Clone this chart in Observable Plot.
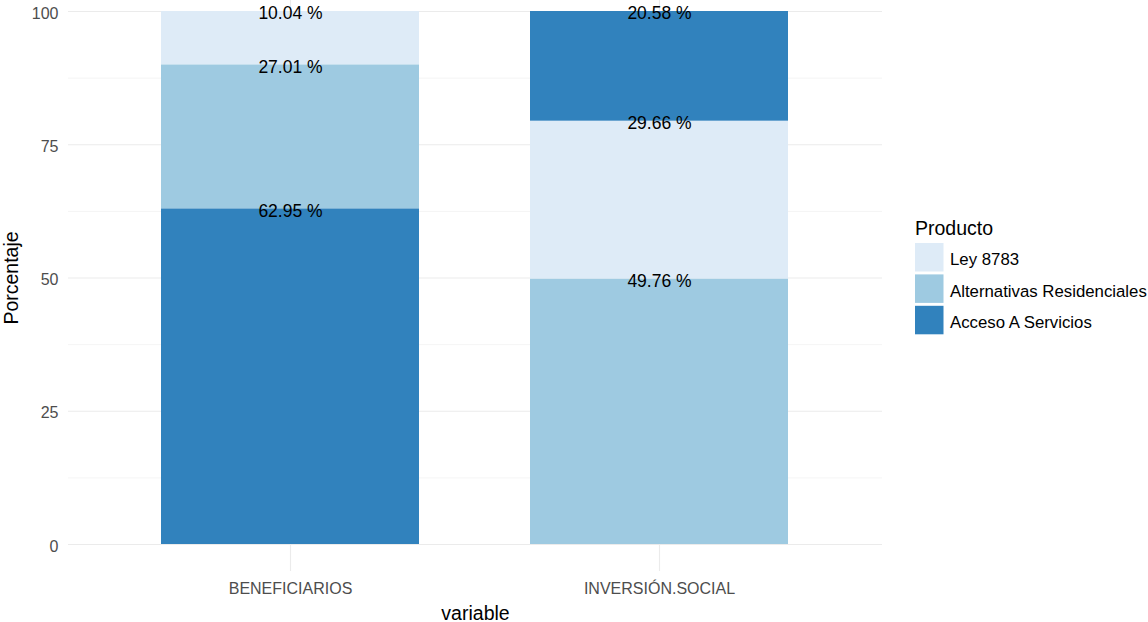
<!DOCTYPE html>
<html><head><meta charset="utf-8">
<script src="https://cdn.jsdelivr.net/npm/d3@7"></script>
<script src="https://cdn.jsdelivr.net/npm/@observablehq/plot@0.6"></script>
<style>
body{margin:0;background:#fff;font-family:"Liberation Sans",Arial,sans-serif;}
#wrap{position:relative;width:1148px;height:622px;overflow:hidden;}
#legend{position:absolute;left:910px;top:210px;}
g[aria-label="y-axis label"] text, g[aria-label="x-axis label"] text {font-size:19.5px; fill:#000;}
</style></head><body><div id="wrap"></div>
<script>
const variables = ["BENEFICIARIOS", "INVERSIÓN.SOCIAL"];
const products = ["Ley 8783", "Alternativas Residenciales", "Acceso A Servicios"];
const beneficiarios = [10.04, 27.01, 62.95];
const inversionSocial = [29.66, 49.76, 20.58];
const colors = ["#DEEBF7", "#9ECAE1", "#3182BD"];
const yTicks = [0, 25, 50, 75, 100];
const yMinor = [12.5, 37.5, 62.5, 87.5];

const data = [];
products.forEach((p, i) => {
  data.push({variable: variables[0], producto: p, value: beneficiarios[i]});
  data.push({variable: variables[1], producto: p, value: inversionSocial[i]});
});

const font = '"Liberation Sans", Arial, sans-serif';
const plot = Plot.plot({
  width: 1148, height: 622,
  marginLeft: 68, marginRight: 266, marginTop: -16, marginBottom: 51,
  style: {fontFamily: font, background: "white"},
  x: {type: "band", domain: variables, paddingInner: 0.3, paddingOuter: 0.25},
  y: {domain: [0, 100], range: [544, 11]},
  color: {domain: products, range: colors},
  marks: [
    Plot.gridY(yMinor, {stroke: "#EBEBEB", strokeOpacity: 1, strokeWidth: 0.55}),
    Plot.gridY(yTicks, {stroke: "#EBEBEB", strokeOpacity: 1, strokeWidth: 1.1}),
    Plot.gridX(variables, {stroke: "#EBEBEB", strokeOpacity: 1, strokeWidth: 1.1}),
    Plot.barY(data, Plot.stackY({x: "variable", y: "value", fill: "producto", order: "value", reverse: true})),
    Plot.text(data, Plot.stackY2({x: "variable", y: "value", order: "value", reverse: true,
      text: d => d.value.toFixed(2) + " %", fontSize: 17.5, fill: "black", dy: 2})),
    Plot.axisY(yTicks, {tickSize: 0, tickPadding: 10, fontSize: 16, fill: "#4D4D4D", dy: 2,
      label: "Porcentaje", labelAnchor: "center", labelArrow: "none", labelOffset: 64}),
    Plot.axisX({tickSize: 0, tickPadding: 11, fontSize: 16, fill: "#4D4D4D",
      label: "variable", labelAnchor: "center", labelArrow: "none", labelOffset: 48})
  ]
});
document.getElementById("wrap").appendChild(plot);

// Legend
const leg = d3.select("#wrap").append("svg").attr("id", "legend")
  .attr("width", 238).attr("height", 135).style("font-family", font);
leg.append("text").attr("x", 5).attr("y", 25).attr("font-size", 19.5).attr("fill", "#000").text("Producto");
const step = 31.4;
products.forEach((p, i) => {
  const y0 = 33 + i * step;
  leg.append("rect").attr("x", 5).attr("y", y0).attr("width", 28.5).attr("height", 28.5).attr("fill", colors[i]);
  leg.append("text").attr("x", 40).attr("y", y0 + 16.5).attr("dy", "0.35em")
    .attr("font-size", 16.8).attr("fill", "#000").text(p);
});
</script>
</body></html>
